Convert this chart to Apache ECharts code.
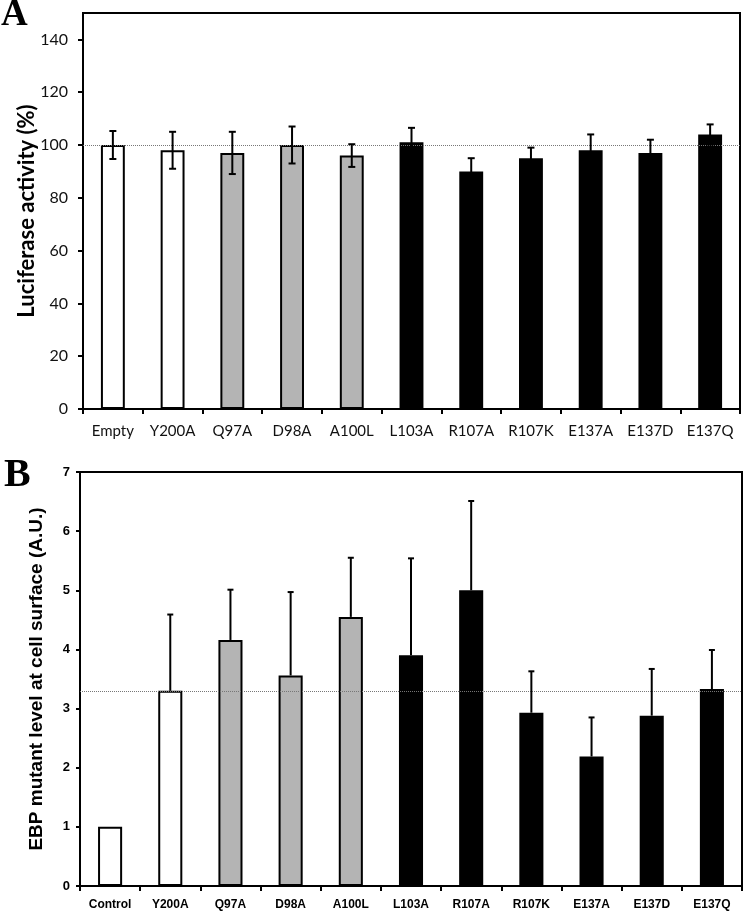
<!DOCTYPE html>
<html>
<head>
<meta charset="utf-8">
<script src="https://cdn.jsdelivr.net/npm/echarts@6/dist/echarts.min.js"></script>
<style>
  html, body { margin: 0; padding: 0; background: #fff; }
  #app { width: 745px; height: 912px; }
</style>
</head>
<body>
<div id="app"></div>
<script>
// panel A: luciferase activity
const catsA = ['Empty', 'Y200A', 'Q97A', 'D98A', 'A100L', 'L103A', 'R107A', 'R107K', 'E137A', 'E137D', 'E137Q'];
const valsA = [100, 98, 97, 100, 96, 101, 90, 95, 98, 97, 104];
const errA = [5.3, 7, 8, 7, 4.3, 5.5, 5, 4, 6, 5, 3.8];
const ticksA = [0, 20, 40, 60, 80, 100, 120, 140];
const refA = 100;

// panel B: surface level
const catsB = ['Control', 'Y200A', 'Q97A', 'D98A', 'A100L', 'L103A', 'R107A', 'R107K', 'E137A', 'E137D', 'E137Q'];
const valsB = [1.0, 3.3, 4.16, 3.56, 4.55, 3.9, 5.0, 2.93, 2.19, 2.88, 3.33];
const errB = [0, 1.29, 0.85, 1.41, 1.0, 1.64, 1.51, 0.7, 0.66, 0.79, 0.66];
const refB = 3.3;

// bar groups (same for both panels)
const groups = [0, 0, 1, 1, 1, 2, 2, 2, 2, 2, 2];
const groupColor = ['#ffffff', '#b4b4b4', '#000000'];

const myChart = echarts.init(document.getElementById('app'));

const errorBars = (withLower, lineWidth, capHalf) => (params, api) => {
  const x = api.value(0);
  const top = api.coord([x, api.value(2)]);
  const bot = api.coord([x, api.value(1)]);
  const style = { stroke: '#000', lineWidth: lineWidth };
  const children = [
    { type: 'line', shape: { x1: top[0], y1: top[1], x2: bot[0], y2: bot[1] }, style },
    { type: 'line', shape: { x1: top[0] - capHalf, y1: top[1], x2: top[0] + capHalf, y2: top[1] }, style },
  ];
  if (withLower) {
    children.push({ type: 'line', shape: { x1: bot[0] - capHalf, y1: bot[1], x2: bot[0] + capHalf, y2: bot[1] }, style });
  }
  return { type: 'group', children };
};

const barData = (vals) => vals.map((v, i) => ({
  value: v,
  itemStyle: { color: groupColor[groups[i]], borderColor: '#000', borderWidth: 2 },
}));

const fontA = 'Lato, "Open Sans", sans-serif';
const fontB = '"Liberation Sans", Arial, sans-serif';

const refLine = (y) => ({
  silent: true,
  symbol: ['none', 'none'],
  label: { show: false },
  lineStyle: { type: 'dotted', color: '#777', width: 1 },
  data: [{ yAxis: y }],
});

const option = {
  animation: false,
  title: [
    { text: 'A', left: 1, top: -3, padding: 0,
      textStyle: { fontFamily: '"Liberation Serif", serif', fontWeight: 'bold', fontSize: 37, color: '#000' } },
    { text: 'B', left: 4, top: 456, padding: 0,
      textStyle: { fontFamily: '"Liberation Serif", serif', fontWeight: 'bold', fontSize: 40, color: '#000' } },
  ],
  grid: [
    { left: 83, top: 13, right: 5, height: 396, show: true, borderColor: '#000', borderWidth: 2, outerBoundsMode: 'none' },
    { left: 80, top: 472, right: 3, height: 414, show: true, borderColor: '#000', borderWidth: 2, outerBoundsMode: 'none' },
  ],
  xAxis: [
    {
      type: 'category', gridIndex: 0, data: catsA,
      axisLine: { lineStyle: { color: '#000', width: 2 } },
      axisTick: { show: true, length: 5, lineStyle: { color: '#000', width: 2 } },
      axisLabel: { color: '#111', fontFamily: fontA, fontSize: 15, margin: 15, interval: 0 },
    },
    {
      type: 'category', gridIndex: 1, data: catsB,
      axisLine: { lineStyle: { color: '#000', width: 2 } },
      axisTick: { show: true, length: 5, lineStyle: { color: '#000', width: 2 } },
      axisLabel: { color: '#000', fontFamily: fontB, fontWeight: 'bold', fontSize: 12, margin: 13, interval: 0 },
    },
  ],
  yAxis: [
    {
      type: 'value', gridIndex: 0, min: 0, max: 150, interval: 20,
      name: 'Luciferase activity (%)', nameLocation: 'middle', nameRotate: 90, nameGap: 45,
      nameMoveOverlap: false,
      nameTextStyle: { fontFamily: fontA, fontWeight: 'bold', fontSize: 22, color: '#000' },
      axisLine: { show: true, lineStyle: { color: '#000', width: 2 } },
      axisTick: { show: true, length: 5, customValues: ticksA, lineStyle: { color: '#000', width: 2 } },
      axisLabel: { color: '#111', fontFamily: fontA, fontSize: 16, margin: 15, customValues: ticksA },
      splitLine: { show: false },
    },
    {
      type: 'value', gridIndex: 1, min: 0, max: 7, interval: 1,
      name: 'EBP mutant level at cell surface (A.U.)', nameLocation: 'middle', nameRotate: 90, nameGap: 34,
      nameMoveOverlap: false,
      nameTextStyle: { fontFamily: fontB, fontWeight: 'bold', fontSize: 19, color: '#000' },
      axisLine: { show: true, lineStyle: { color: '#000', width: 2 } },
      axisTick: { show: true, length: 4, lineStyle: { color: '#000', width: 2 } },
      axisLabel: { color: '#000', fontFamily: fontB, fontWeight: 'bold', fontSize: 13, margin: 10 },
      splitLine: { show: false },
    },
  ],
  series: [
    {
      type: 'bar', xAxisIndex: 0, yAxisIndex: 0, barWidth: '40%',
      data: barData(valsA),
      markLine: refLine(refA),
    },
    {
      type: 'custom', xAxisIndex: 0, yAxisIndex: 0, z: 5,
      renderItem: errorBars(true, 2, 3.5),
      data: valsA.map((v, i) => [i, v - errA[i], v + errA[i]]),
    },
    {
      type: 'bar', xAxisIndex: 1, yAxisIndex: 1, barWidth: '40%',
      data: barData(valsB),
      markLine: refLine(refB),
    },
    {
      type: 'custom', xAxisIndex: 1, yAxisIndex: 1, z: 5,
      renderItem: errorBars(false, 2, 3),
      data: valsB.map((v, i) => [i, v, v + errB[i]]).filter(d => d[2] > d[1]),
    },
  ],
};

myChart.setOption(option);
</script>
</body>
</html>
